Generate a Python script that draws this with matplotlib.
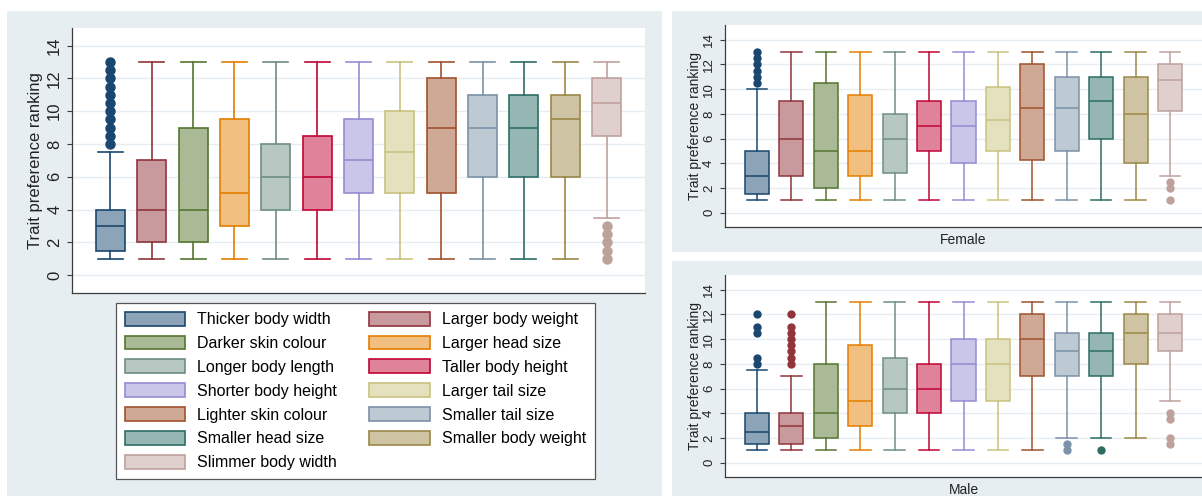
import matplotlib
matplotlib.use("Agg")
import matplotlib.pyplot as plt
from matplotlib.patches import Rectangle, Patch

# ---------------- data ----------------
traits = ["Thicker body width", "Larger body weight", "Darker skin colour",
          "Larger head size", "Longer body length", "Taller body height",
          "Shorter body height", "Larger tail size", "Lighter skin colour",
          "Smaller tail size", "Smaller head size", "Smaller body weight",
          "Slimmer body width"]

edge_colors = ["#1A476F", "#90353B", "#55752F", "#E37E00", "#6E8E84",
               "#C10534", "#938DD2", "#CAC27E", "#A0522D", "#7B92A8",
               "#2D6D66", "#9C8847", "#BFA19C"]

# Overall
all_whislo = [1, 1, 1, 1, 1, 1, 1, 1, 1, 1, 1, 1, 3.5]
all_q1     = [1.5, 2, 2, 3, 4, 4, 5, 5, 5, 6, 6, 6, 8.5]
all_med    = [3, 4, 4, 5, 6, 6, 7, 7.5, 9, 9, 9, 9.5, 10.5]
all_q3     = [4, 7, 9, 9.5, 8, 8.5, 9.5, 10, 12, 11, 11, 11, 12]
all_whishi = [7.5, 13, 13, 13, 13, 13, 13, 13, 13, 13, 13, 13, 13]
all_fliers = [[8, 8.5, 9, 9.5, 10, 10.5, 11, 11.5, 12, 12.5, 13],
              [], [], [], [], [], [], [], [], [], [], [],
              [1, 1.5, 2, 2.5, 3]]

# Female
fem_whislo = [1, 1, 1, 1, 1, 1, 1, 1, 1, 1, 1, 1, 3]
fem_q1     = [1.5, 3, 2, 3, 3.25, 5, 4, 5, 4.25, 5, 6, 4, 8.25]
fem_med    = [3, 6, 5, 5, 6, 7, 7, 7.5, 8.5, 8.5, 9, 8, 10.75]
fem_q3     = [5, 9, 10.5, 9.5, 8, 9, 9, 10.2, 12, 11, 11, 11, 12]
fem_whishi = [10, 13, 13, 13, 13, 13, 13, 13, 13, 13, 13, 13, 13]
fem_fliers = [[10.5, 11, 11.5, 12, 12.5, 13],
              [], [], [], [], [], [], [], [], [], [], [],
              [1, 2, 2.5]]

# Male
male_whislo = [1, 1, 1, 1, 1, 1, 1, 1, 1, 2, 2, 2, 5]
male_q1     = [1.5, 1.5, 2, 3, 4, 4, 5, 5, 7, 7, 7, 8, 9]
male_med    = [2.5, 3, 4, 5, 6, 6, 8, 8, 10, 9, 9, 10.5, 10.5]
male_q3     = [4, 4, 8, 9.5, 8.5, 8, 10, 10, 12, 10.5, 10.5, 12, 12]
male_whishi = [7.5, 7, 13, 13, 13, 13, 13, 13, 13, 13, 13, 13, 13]
male_fliers = [[8, 8.5, 10.5, 11, 12],
               [8, 8.5, 9, 9.5, 10, 10.5, 11, 12],
               [], [], [], [], [], [], [],
               [1, 1.5], [1], [],
               [1.5, 2, 3.5, 4]]

yticks = [0, 2, 4, 6, 8, 10, 12, 14]

# ---------------- style ----------------
plt.rcParams["font.family"] = ["Liberation Sans", "DejaVu Sans"]
W, H = 1202, 496
BG = "#E7EEF1"
GRID = "#E6EDF2"
AXC = "#3C3C3C"


def lighten(hexc, f=0.5):
    h = hexc.lstrip("#")
    r, g, b = (int(h[i:i + 2], 16) / 255 for i in (0, 2, 4))
    return (r + (1 - r) * f, g + (1 - g) * f, b + (1 - b) * f)


def fr(x0, y0, x1, y1):
    """pixel box (top-left origin) -> figure fraction rect"""
    return [x0 / W, 1 - y1 / H, (x1 - x0) / W, (y1 - y0) / H]


fig = plt.figure(figsize=(W / 100, H / 100), dpi=100, facecolor="white")

# panel backgrounds
for (x0, y0, x1, y1) in [(7, 11, 662, 496), (672, 11, 1202, 252), (672, 261, 1202, 496)]:
    l, b, w, h = fr(x0, y0, x1, y1)
    fig.patches.append(Rectangle((l, b), w, h, transform=fig.transFigure,
                                 facecolor=BG, edgecolor="none", zorder=-10))


def draw_panel(ax, whislo, q1, med, q3, whishi, fliers, fs_tick, fs_lab,
               ylim, msize, lw, xlabel=None, labelpad=4):
    ax.set_facecolor("white")
    for i in range(len(traits)):
        st = [dict(whislo=whislo[i], q1=q1[i], med=med[i], q3=q3[i],
                   whishi=whishi[i], fliers=fliers[i], label=traits[i])]
        c = edge_colors[i]
        ax.bxp(st, positions=[i + 1], widths=0.7, capwidths=0.6,
               patch_artist=True, showfliers=True, manage_ticks=False,
               boxprops=dict(facecolor=lighten(c, 0.5), edgecolor=c, linewidth=lw),
               medianprops=dict(color=c, linewidth=lw),
               whiskerprops=dict(color=c, linewidth=lw),
               capprops=dict(color=c, linewidth=lw),
               flierprops=dict(marker="o", markerfacecolor=c, markeredgecolor=c,
                               markersize=msize, linestyle="none"))
    ax.set_xlim(0.07, 13.93)
    ax.set_ylim(*ylim)
    ax.set_yticks(yticks)
    ax.set_xticks([])
    ax.yaxis.grid(True, color=GRID, linewidth=1.0)
    ax.set_axisbelow(True)
    for s in ("top", "right"):
        ax.spines[s].set_visible(False)
    for s in ("left", "bottom"):
        ax.spines[s].set_color(AXC)
        ax.spines[s].set_linewidth(0.9)
    ax.tick_params(axis="y", length=3.6, width=0.8, color=AXC, pad=3.5,
                   labelsize=fs_tick, labelrotation=90, labelcolor="#222222")
    for t in ax.get_yticklabels():
        t.set_va("center")
    ax.set_ylabel("Trait preference ranking", fontsize=fs_lab, color="#222222",
                  labelpad=labelpad)
    if xlabel:
        ax.set_xlabel(xlabel, fontsize=fs_lab, color="#222222", labelpad=4.5)


ax_all = fig.add_axes(fr(72, 28.3, 645, 292.5))
draw_panel(ax_all, all_whislo, all_q1, all_med, all_q3, all_whishi, all_fliers,
           12, 12, (-1.06, 15.06), 6.5, 1.2, labelpad=3)

ax_f = fig.add_axes(fr(725, 25, 1202, 227))
draw_panel(ax_f, fem_whislo, fem_q1, fem_med, fem_q3, fem_whishi, fem_fliers,
           9.5, 10, (-1.16, 15.19), 5, 1.1, xlabel="Female", labelpad=1)

ax_m = fig.add_axes(fr(725, 275, 1202, 477))
draw_panel(ax_m, male_whislo, male_q1, male_med, male_q3, male_whishi, male_fliers,
           9.5, 10, (-1.16, 15.19), 5, 1.1, xlabel="Male", labelpad=1)

# legend (row-major order like the reference)
handles = [Patch(facecolor=lighten(c, 0.5), edgecolor=c, linewidth=1.2)
           for c in edge_colors]
order = list(range(0, 13, 2)) + list(range(1, 13, 2))
leg = fig.legend([handles[i] for i in order], [traits[i] for i in order],
                 ncol=2, loc="upper left",
                 bbox_to_anchor=(116 / W, 1 - 303 / H),
                 bbox_transform=fig.transFigure,
                 fontsize=11.5, frameon=True, fancybox=False,
                 edgecolor="#555555", facecolor="white", framealpha=1,
                 handlelength=3.8, handleheight=0.95, handletextpad=0.75,
                 labelspacing=0.53, columnspacing=2.0, borderpad=0.55,
                 borderaxespad=0)
leg.get_frame().set_linewidth(0.9)

fig.savefig("out.png", dpi=100, facecolor="white")
